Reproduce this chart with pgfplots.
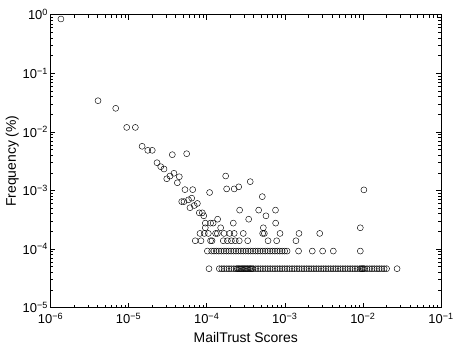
\documentclass[border=0pt]{standalone}
\usepackage{pgfplots}
\pgfplotsset{compat=1.18}
\usepackage{fontspec}
\setmainfont{Liberation Sans}

\newcommand{\decade}[1]{\pgfmathtruncatemacro\e{round(#1)}10\textsuperscript{\ifnum\e<0 −\number\numexpr-\e\relax\else\e\fi}}

\begin{document}
\begin{tikzpicture}
\begin{axis}[
    at={(0,0)}, anchor=south west,
    scale only axis,
    width=390.5bp, height=292.8bp,
    xmode=log, ymode=log,
    log basis x=10, log basis y=10,
    xmin=1e-6, xmax=1e-1,
    ymin=1e-5, ymax=1,
    xticklabel={\decade{\tick}},
    yticklabel={\decade{\tick}},
    tick label style={font=\fontsize{13}{15}\selectfont},
    xticklabel style={yshift=-2bp},
    yticklabel style={xshift=1bp},
    label style={font=\fontsize{14}{16}\selectfont},
    xlabel={MailTrust Scores},
    ylabel={Frequency (\%)},
    xlabel style={yshift=-2bp},
    ylabel style={yshift=-3bp},
    major tick length=5bp,
    minor tick length=2.8bp,
    axis line style={line width=0.6pt},
    every tick/.style={line width=0.5pt},
]
% scattered points
\addplot[only marks, mark=o, mark size=3pt, mark options={line width=0.45pt, black}]
coordinates {
(1.36e-6,0.845) (4.06e-6,0.034) (6.84e-6,0.0252) (9.46e-6,0.0119) (1.22e-5,0.0119)
(1.49e-5,5.66e-3) (1.76e-5,4.83e-3) (2.01e-5,4.83e-3) (3.63e-5,4.07e-3) (5.54e-5,4.23e-3)
(2.31e-5,2.97e-3) (2.58e-5,2.54e-3) (2.84e-5,2.32e-3) (3.81e-5,1.96e-3) (4.46e-5,1.71e-3)
(3.39e-5,1.76e-3) (3.08e-5,1.58e-3) (4.21e-5,1.35e-3) (5.27e-5,1.03e-3) (6.62e-5,1.03e-3)
(1.09e-4,9.2e-4) (1.75e-4,1.76e-3) (1.80e-4,1.06e-3) (2.25e-4,1.06e-3) (2.57e-4,1.15e-3)
(3.61e-4,1.41e-3) (5.15e-4,7.82e-4) (1.03e-2,1.02e-3)
(4.79e-5,6.44e-4) (5.12e-5,6.44e-4) (5.85e-5,6.9e-4) (6.43e-5,7.36e-4) (7.6e-5,5.98e-4)
(6.93e-5,5.52e-4) (6.11e-5,5.06e-4)
(2.64e-4,4.6e-4) (4.63e-4,4.6e-4) (7.6e-4,4.6e-4)
(8.04e-5,4.14e-4) (8.79e-5,4.14e-4)
(9.17e-5,3.68e-4) (5.74e-4,3.68e-4)
(1.38e-4,3.22e-4) (3.45e-4,3.22e-4)
(9.6e-5,2.76e-4) (1.12e-4,2.76e-4) (1.21e-4,2.76e-4) (2.19e-4,2.76e-4) (7.64e-4,2.76e-4)
(9.6e-5,2.3e-4) (1.51e-4,2.3e-4) (5.31e-4,2.3e-4) (9.27e-3,2.3e-4)
% 4 counts
(8.2e-5,1.84e-4) (9.31e-5,1.84e-4) (1.05e-4,1.84e-4) (1.30e-4,1.84e-4) (1.37e-4,1.84e-4)
(1.67e-4,1.84e-4) (1.97e-4,1.84e-4) (2.25e-4,1.84e-4) (2.94e-4,1.84e-4) (5.21e-4,1.84e-4)
(5.47e-4,1.84e-4) (8.69e-4,1.84e-4) (1.52e-3,1.84e-4) (2.80e-3,1.84e-4)
% 3 counts
(7.14e-5,1.38e-4) (8.45e-5,1.38e-4) (1.12e-4,1.38e-4) (1.17e-4,1.38e-4) (1.63e-4,1.38e-4)
(1.84e-4,1.38e-4) (2.07e-4,1.38e-4) (2.32e-4,1.38e-4) (2.61e-4,1.38e-4) (3.35e-4,1.38e-4)
(6.10e-4,1.38e-4) (7.87e-4,1.38e-4) (1.39e-3,1.38e-4)
% 2 counts
(1.02e-4,9.2e-5) (1.16e-4,9.2e-5) (1.24e-4,9.2e-5) (1.33e-4,9.2e-5) (1.43e-4,9.2e-5)
(1.54e-4,9.2e-5) (1.66e-4,9.2e-5) (1.78e-4,9.2e-5) (1.91e-4,9.2e-5) (2.05e-4,9.2e-5)
(2.21e-4,9.2e-5) (2.37e-4,9.2e-5) (2.55e-4,9.2e-5) (2.74e-4,9.2e-5) (2.94e-4,9.2e-5)
(3.16e-4,9.2e-5) (3.40e-4,9.2e-5) (3.65e-4,9.2e-5) (3.92e-4,9.2e-5) (4.21e-4,9.2e-5)
(4.52e-4,9.2e-5) (4.86e-4,9.2e-5) (5.22e-4,9.2e-5) (5.61e-4,9.2e-5) (6.03e-4,9.2e-5)
(6.48e-4,9.2e-5) (6.96e-4,9.2e-5) (7.48e-4,9.2e-5) (8.03e-4,9.2e-5) (8.63e-4,9.2e-5)
(9.27e-4,9.2e-5) (9.96e-4,9.2e-5) (1.07e-3,9.2e-5)
(1.50e-3,9.2e-5) (2.25e-3,9.2e-5) (3.05e-3,9.2e-5) (4.18e-3,9.2e-5) (9.27e-3,9.2e-5)
% 1 count
(1.07e-4,4.6e-5)
(1.45e-4,4.6e-5) (1.56e-4,4.6e-5) (1.67e-4,4.6e-5) (1.80e-4,4.6e-5) (1.93e-4,4.6e-5)
(2.07e-4,4.6e-5) (2.23e-4,4.6e-5) (2.39e-4,4.6e-5) (2.57e-4,4.6e-5) (2.76e-4,4.6e-5)
(2.96e-4,4.6e-5) (3.18e-4,4.6e-5) (3.42e-4,4.6e-5) (3.67e-4,4.6e-5) (3.94e-4,4.6e-5)
(4.23e-4,4.6e-5) (4.55e-4,4.6e-5) (4.88e-4,4.6e-5) (5.24e-4,4.6e-5) (5.63e-4,4.6e-5)
(6.05e-4,4.6e-5) (6.50e-4,4.6e-5) (6.98e-4,4.6e-5) (7.49e-4,4.6e-5) (8.05e-4,4.6e-5)
(8.64e-4,4.6e-5) (9.28e-4,4.6e-5) (9.97e-4,4.6e-5) (1.07e-3,4.6e-5) (1.15e-3,4.6e-5)
(1.24e-3,4.6e-5) (1.33e-3,4.6e-5) (1.43e-3,4.6e-5) (1.53e-3,4.6e-5) (1.65e-3,4.6e-5)
(1.77e-3,4.6e-5) (1.90e-3,4.6e-5) (2.04e-3,4.6e-5) (2.19e-3,4.6e-5) (2.35e-3,4.6e-5)
(2.53e-3,4.6e-5) (2.71e-3,4.6e-5) (2.92e-3,4.6e-5) (3.13e-3,4.6e-5) (3.36e-3,4.6e-5)
(3.61e-3,4.6e-5) (3.88e-3,4.6e-5) (4.17e-3,4.6e-5) (4.47e-3,4.6e-5) (4.80e-3,4.6e-5)
(5.16e-3,4.6e-5) (5.54e-3,4.6e-5) (5.95e-3,4.6e-5) (6.39e-3,4.6e-5) (6.86e-3,4.6e-5)
(7.37e-3,4.6e-5) (7.92e-3,4.6e-5) (8.50e-3,4.6e-5) (9.13e-3,4.6e-5) (9.81e-3,4.6e-5)
(1.05e-2,4.6e-5) (1.13e-2,4.6e-5) (1.22e-2,4.6e-5) (1.31e-2,4.6e-5) (1.40e-2,4.6e-5)
(1.51e-2,4.6e-5) (1.62e-2,4.6e-5) (1.74e-2,4.6e-5) (1.87e-2,4.6e-5) (2.01e-2,4.6e-5)
(2.48e-4,4.6e-5) (2.66e-4,4.6e-5) (2.86e-4,4.6e-5) (3.07e-4,4.6e-5) (3.30e-4,4.6e-5)
(3.55e-4,4.6e-5) (3.80e-4,4.6e-5) (9.5e-3,4.6e-5) (1.01e-2,4.6e-5)
(2.74e-2,4.6e-5)
};
\end{axis}
\pgfresetboundingbox
\path[use as bounding box] (-50.5bp,-38.5bp) rectangle (406.5bp,307.5bp);
\end{tikzpicture}
\end{document}
